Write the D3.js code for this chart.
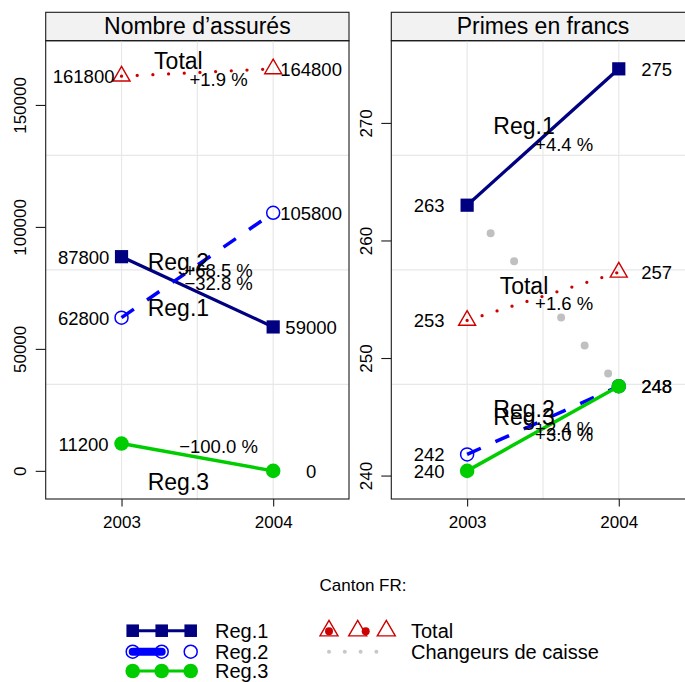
<!DOCTYPE html>
<html>
<head>
<meta charset="utf-8">
<script src="https://cdn.jsdelivr.net/npm/d3@7"></script>
<style>
body { margin: 0; background: #fff; }
text { font-family: "Liberation Sans", Arial, Helvetica, sans-serif; fill: #000; }
</style>
</head>
<body>
<svg id="chart"></svg>
<script>
// data
var years = [2003, 2004]
var groups = ["Reg.1", "Reg.2", "Reg.3", "Total"]

var assuresReg1 = [87800, 59000]
var assuresReg2 = [62800, 105800]
var assuresReg3 = [11200, 0]
var assuresTotal = [161800, 164800]

var primesReg1 = [263.0, 274.6]
var primesReg2 = [241.8, 247.6]
var primesReg3 = [240.4, 247.6]
var primesTotal = [253.2, 257.3]
var primesChangeurs = [263.0, 247.6]

var panelTitles = ["Nombre d’assurés", "Primes en francs"]
var assuresTicks = [0, 50000, 100000, 150000]
var primesTicks = [240, 250, 260, 270]

var legendTitle = "Canton FR:"
var legendLeft = ["Reg.1", "Reg.2", "Reg.3"]
var legendRight = ["Total", "Changeurs de caisse"]

var dimensions = {
    width: 685,
    height: 682,
    stripTop: 12.3,
    panelTop: 40.7,
    panelBottom: 499,
    panelWidth: 303.3,
    panelLeft: [45.7, 391.3]
}

var styles = {
    "Reg.1": {color: "#000080", width: 3.3, dash: null, cap: "butt", symbol: "square"},
    "Reg.2": {color: "#0000ff", width: 3.5, dash: "15 16", cap: "butt", symbol: "open"},
    "Reg.3": {color: "#00cd00", width: 3.5, dash: null, cap: "butt", symbol: "circle"},
    "Total": {color: "#cd0000", width: 3.3, dash: "0 15.7", cap: "round", symbol: "triangle"}
}

// baseline nudges (px) of the group name and the % label, from the midpoint
var labelNudge = [
    {"Reg.1": [24.5, -1.5], "Reg.2": [5.2, 11.9], "Reg.3": [32.7, -4.6], "Total": [-3.3, 13.4]},
    {"Reg.1": [-3, 14.4], "Reg.2": [-3.8, 14.5], "Reg.3": [-3.8, 12.8], "Total": [-2.5, 14.2]}
]

var panels = [
    {title: panelTitles[0], ticks: assuresTicks,
     values: {"Reg.1": assuresReg1, "Reg.2": assuresReg2, "Reg.3": assuresReg3, "Total": assuresTotal},
     changeurs: null},
    {title: panelTitles[1], ticks: primesTicks,
     values: {"Reg.1": primesReg1, "Reg.2": primesReg2, "Reg.3": primesReg3, "Total": primesTotal},
     changeurs: primesChangeurs}
]

var svg = d3.select("#chart")
    .attr("width", dimensions.width)
    .attr("height", dimensions.height)

svg.append("rect").attr("width", dimensions.width).attr("height", dimensions.height).attr("fill", "#fff")

var fmtValue = d3.format(".0f")
var fmtPct = d3.format("+.1f")

function trianglePath(a) {
    var h = a / Math.sqrt(3)
    return "M0," + (-h) + "L" + (a / 2) + "," + (h / 2) + "L" + (-a / 2) + "," + (h / 2) + "Z"
}

function drawSymbol(g, kind, color, x, y, big) {
    var k = big ? 1 : 0.95
    if (kind == "square") {
        g.append("rect").attr("x", x - 6.6 * k).attr("y", y - 6.6 * k)
            .attr("width", 13.2 * k).attr("height", 13.2 * k).attr("fill", color)
    } else if (kind == "open") {
        g.append("circle").attr("cx", x).attr("cy", y).attr("r", 6.5)
            .attr("fill", "none").attr("stroke", color).attr("stroke-width", 1.5)
    } else if (kind == "circle") {
        g.append("circle").attr("cx", x).attr("cy", y).attr("r", 7.3).attr("fill", color)
    } else if (kind == "triangle") {
        g.append("path").attr("d", trianglePath(big ? 17 : 18))
            .attr("transform", "translate(" + x + "," + y + ")")
            .attr("fill", "none").attr("stroke", color).attr("stroke-width", 1.4)
    }
}

panels.forEach(function(p, i) {
    var x0 = dimensions.panelLeft[i]
    var x1 = x0 + dimensions.panelWidth
    var top = dimensions.panelTop, bottom = dimensions.panelBottom

    var all = groups.map(k => p.values[k]).flat()
    var ext = d3.extent(all)
    var pad = (ext[1] - ext[0]) * 0.07

    var xScale = d3.scaleLinear().domain([2002.5, 2004.5]).range([x0, x1])
    var yScale = d3.scaleLinear().domain([ext[0] - pad, ext[1] + pad]).range([bottom, top])

    var g = svg.append("g")

    // strip
    g.append("rect").attr("x", x0).attr("y", dimensions.stripTop)
        .attr("width", x1 - x0).attr("height", top - dimensions.stripTop)
        .attr("fill", "#f2f2f2").attr("stroke", "#1a1a1a").attr("stroke-width", 1.1)
    g.append("text").attr("x", (x0 + x1) / 2).attr("y", 34.3)
        .attr("text-anchor", "middle").style("font-size", "23px").text(p.title)

    // grid (3 lines each way)
    var grid = g.append("g").attr("stroke", "#e8e8e8").attr("stroke-width", 1.2)
    d3.range(1, 4).forEach(function(j) {
        var gx = x0 + (x1 - x0) * j / 4
        var gy = top + (bottom - top) * j / 4
        grid.append("line").attr("x1", gx).attr("x2", gx).attr("y1", top).attr("y2", bottom)
        grid.append("line").attr("x1", x0).attr("x2", x1).attr("y1", gy).attr("y2", gy)
    })

    // changeurs de caisse
    if (p.changeurs) {
        g.append("path")
            .datum(p.changeurs)
            .attr("d", d3.line().x((d, j) => xScale(years[j])).y(d => yScale(d)))
            .attr("fill", "none").attr("stroke", "#c0c0c0").attr("stroke-width", 8)
            .attr("stroke-linecap", "round")
            .attr("stroke-dasharray", "0 36.6 0 36.6 0 73.2 0 36.6 0 36.6 0 36.6 0 400")
    }

    groups.forEach(function(k) {
        var v = p.values[k]
        var s = styles[k]
        var line = d3.line().x((d, j) => xScale(years[j])).y(d => yScale(d))
        g.append("path").datum(v).attr("d", line)
            .attr("fill", "none").attr("stroke", s.color).attr("stroke-width", s.width)
            .attr("stroke-dasharray", s.dash).attr("stroke-linecap", s.cap)
        v.forEach(function(d, j) {
            drawSymbol(g, s.symbol, s.color, xScale(years[j]), yScale(d), true)
        })
    })

    groups.forEach(function(k) {
        var v = p.values[k]
        var mid = yScale((v[0] + v[1]) / 2)
        var nudge = labelNudge[i][k]
        // value labels
        g.append("text").attr("x", xScale(years[0] - 0.25)).attr("y", yScale(v[0]) + 7)
            .attr("text-anchor", "middle").style("font-size", "18.5px").text(fmtValue(v[0]))
        g.append("text").attr("x", xScale(years[1] + 0.25)).attr("y", yScale(v[1]) + 7)
            .attr("text-anchor", "middle").style("font-size", "18.5px").text(fmtValue(v[1]))
        // group name and change
        g.append("text").attr("x", xScale(years[0] + 0.375)).attr("y", mid + nudge[0])
            .attr("text-anchor", "middle").style("font-size", "23px").text(k)
        g.append("text").attr("x", xScale(years[0] + 0.64)).attr("y", mid + nudge[1])
            .attr("text-anchor", "middle").style("font-size", "18.5px")
            .text(fmtPct((v[1] - v[0]) / v[0] * 100) + " %")
    })

    // frame
    g.append("rect").attr("x", x0).attr("y", top).attr("width", x1 - x0).attr("height", bottom - top)
        .attr("fill", "none").attr("stroke", "#1a1a1a").attr("stroke-width", 1.1)

    // axes
    var yAxis = g.append("g")
        .attr("transform", "translate(" + x0 + ",0)")
        .call(d3.axisLeft(yScale).tickValues(p.ticks).tickSize(10).tickFormat(d3.format("d")))
    yAxis.select(".domain").remove()
    yAxis.selectAll("line").attr("stroke", "#1a1a1a").attr("stroke-width", 1.1)
    yAxis.selectAll("text")
        .attr("x", null).attr("dy", null)
        .attr("transform", "translate(-19.7,0) rotate(-90)")
        .attr("text-anchor", "middle")
        .style("font-size", "17px").attr("font-family", null)

    var xAxis = g.append("g")
        .attr("transform", "translate(0," + bottom + ")")
        .call(d3.axisBottom(xScale).tickValues(years).tickSize(7.5).tickFormat(d3.format("d")))
    xAxis.select(".domain").remove()
    xAxis.selectAll("line").attr("stroke", "#1a1a1a").attr("stroke-width", 1.1)
    xAxis.selectAll("text").attr("y", 29).attr("dy", null)
        .style("font-size", "17px").attr("font-family", null)
})

// legend
var legend = svg.append("g")
legend.append("text").attr("x", 363).attr("y", 591)
    .attr("text-anchor", "middle").style("font-size", "17px").text(legendTitle)

var keyX = [132.7, 161.7, 190.7]
var rowY = [630.7, 651.7, 671]
legendLeft.forEach(function(k, r) {
    var s = styles[k]
    var y = rowY[r]
    if (s.symbol == "open") {
        legend.append("line").attr("x1", keyX[0]).attr("x2", keyX[1]).attr("y1", y).attr("y2", y)
            .attr("stroke", s.color).attr("stroke-width", 8).attr("stroke-linecap", "round")
    } else {
        legend.append("line").attr("x1", keyX[0]).attr("x2", keyX[2]).attr("y1", y).attr("y2", y)
            .attr("stroke", s.color).attr("stroke-width", 3)
    }
    keyX.forEach(x => drawSymbol(legend, s.symbol, s.color, x, y, false))
    legend.append("text").attr("x", 215).attr("y", y + 7.2)
        .style("font-size", "20px").text(k)
})

var triX = [329, 357.7, 386.3]
triX.forEach(x => drawSymbol(legend, "triangle", styles["Total"].color, x, rowY[0], false))
legend.append("circle").attr("cx", triX[0]).attr("cy", rowY[0] + 0.5).attr("r", 4).attr("fill", styles["Total"].color)
legend.append("circle").attr("cx", triX[1] + 8).attr("cy", rowY[0] + 0.5).attr("r", 4).attr("fill", styles["Total"].color)
d3.range(4).forEach(function(j) {
    legend.append("circle").attr("cx", 329 + j * 15.8).attr("cy", rowY[1]).attr("r", 2).attr("fill", "#c8c8c8")
})
legendRight.forEach(function(t, r) {
    legend.append("text").attr("x", 411).attr("y", rowY[r] + 7.2)
        .style("font-size", "20px").text(t)
})
</script>
</body>
</html>
